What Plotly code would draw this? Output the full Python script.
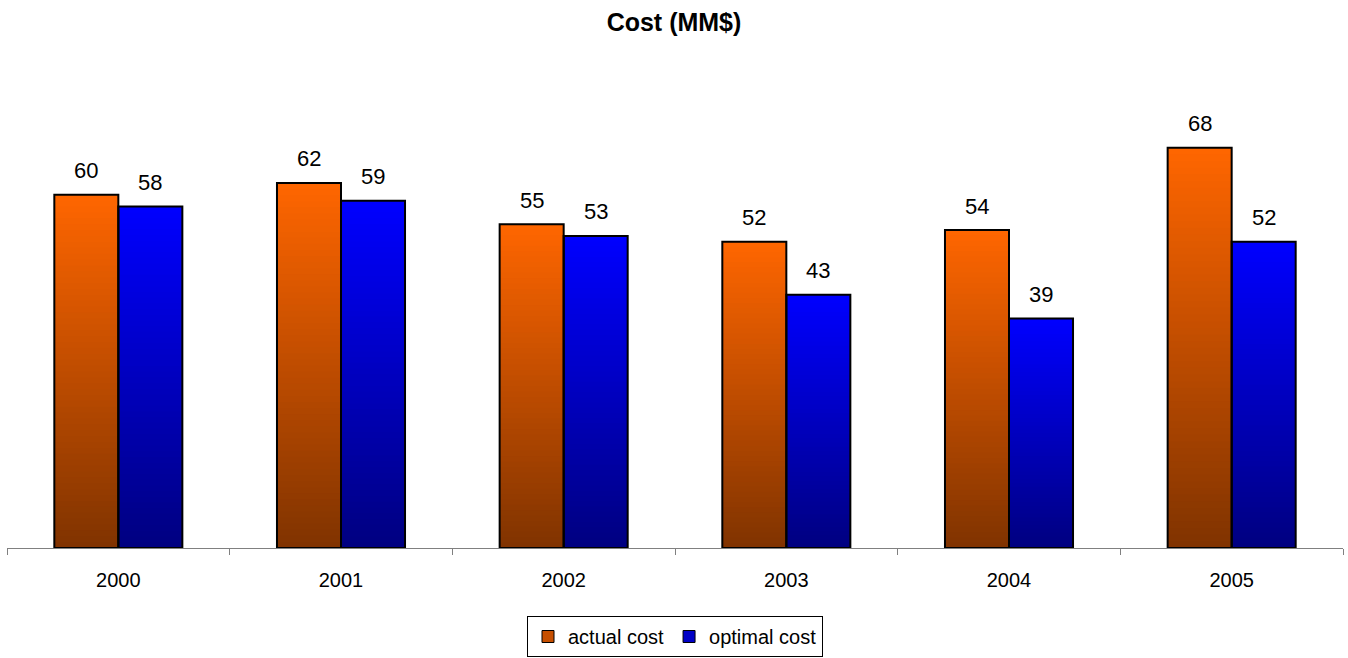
import plotly.graph_objects as go

years = ["2000", "2001", "2002", "2003", "2004", "2005"]
actual_cost = [60, 62, 55, 52, 54, 68]
optimal_cost = [58, 59, 53, 43, 39, 52]

series = [
    ("actual cost", actual_cost, (255, 102, 0), "actual"),
    ("optimal cost", optimal_cost, (0, 0, 255), "optimal"),
]

FONT = "Arial, Liberation Sans, sans-serif"
N_STEPS = 60  # vertical gradient slices per bar


def shade(rgb, t):
    # t = 0 at the bar foot (dark), 1 at the bar top (full colour)
    f = 0.5 + 0.5 * t
    return "rgb(%d,%d,%d)" % tuple(round(c * f) for c in rgb)


fig = go.Figure()

# legend entries
for name, vals, rgb, grp in series:
    fig.add_trace(go.Bar(
        x=years, y=[None] * len(years), name=name, offsetgroup=grp,
        marker=dict(color=shade(rgb, 0.55), line=dict(color="black", width=1)),
        hoverinfo="skip",
    ))

# gradient bodies: each slice runs from its own base up to the bar top,
# and the next slice is painted over it, so no seams appear
for name, vals, rgb, grp in series:
    for k in range(N_STEPS):
        t = (k + 0.5) / N_STEPS
        fig.add_trace(go.Bar(
            x=years,
            y=[v * (N_STEPS - k) / N_STEPS for v in vals],
            base=[v * k / N_STEPS for v in vals],
            offsetgroup=grp, showlegend=False, hoverinfo="skip",
            marker=dict(color=shade(rgb, t), line=dict(width=0)),
        ))

# black outlines
for name, vals, rgb, grp in series:
    fig.add_trace(go.Bar(
        x=years, y=vals, offsetgroup=grp, showlegend=False,
        marker=dict(color="rgba(0,0,0,0)", line=dict(color="black", width=2)),
        hovertemplate=name + " %{x}: %{y}<extra></extra>",
    ))

# value labels above each bar (category index keeps numeric-looking names safe)
for (name, vals, rgb, grp), dx in zip(series, (-32, 32)):
    for i, v in enumerate(vals):
        fig.add_annotation(
            x=i, y=v, text=str(v), showarrow=False,
            xshift=dx, yshift=24, yanchor="middle",
            font=dict(family=FONT, size=22, color="black"),
        )

fig.update_layout(
    width=1348, height=658,
    margin=dict(l=7, r=5, t=77, b=110, autoexpand=False),
    paper_bgcolor="white", plot_bgcolor="white",
    barmode="group", bargap=0.425, bargroupgap=0,
    title=dict(
        text="<b>Cost (MM$)</b>", x=0.5, xanchor="center",
        y=1 - 22 / 658, yanchor="middle",
        font=dict(family=FONT, size=25, color="black"),
    ),
    font=dict(family=FONT, color="black"),
    xaxis=dict(
        type="category", showgrid=False, zeroline=False,
        showline=True, linecolor="#808080", linewidth=1,
        ticks="outside", tickson="boundaries", ticklen=6,
        tickcolor="#808080", tickwidth=1, ticklabelstandoff=14,
        tickfont=dict(family=FONT, size=20, color="black"),
    ),
    yaxis=dict(range=[0, 80], visible=False, showgrid=False),
    legend=dict(
        orientation="h", x=0.5, xanchor="center",
        y=-0.1444, yanchor="top",
        bordercolor="black", borderwidth=1,
        font=dict(family=FONT, size=20, color="black"),
        itemwidth=30,
    ),
    showlegend=True,
)

fig.write_html("out.html")
